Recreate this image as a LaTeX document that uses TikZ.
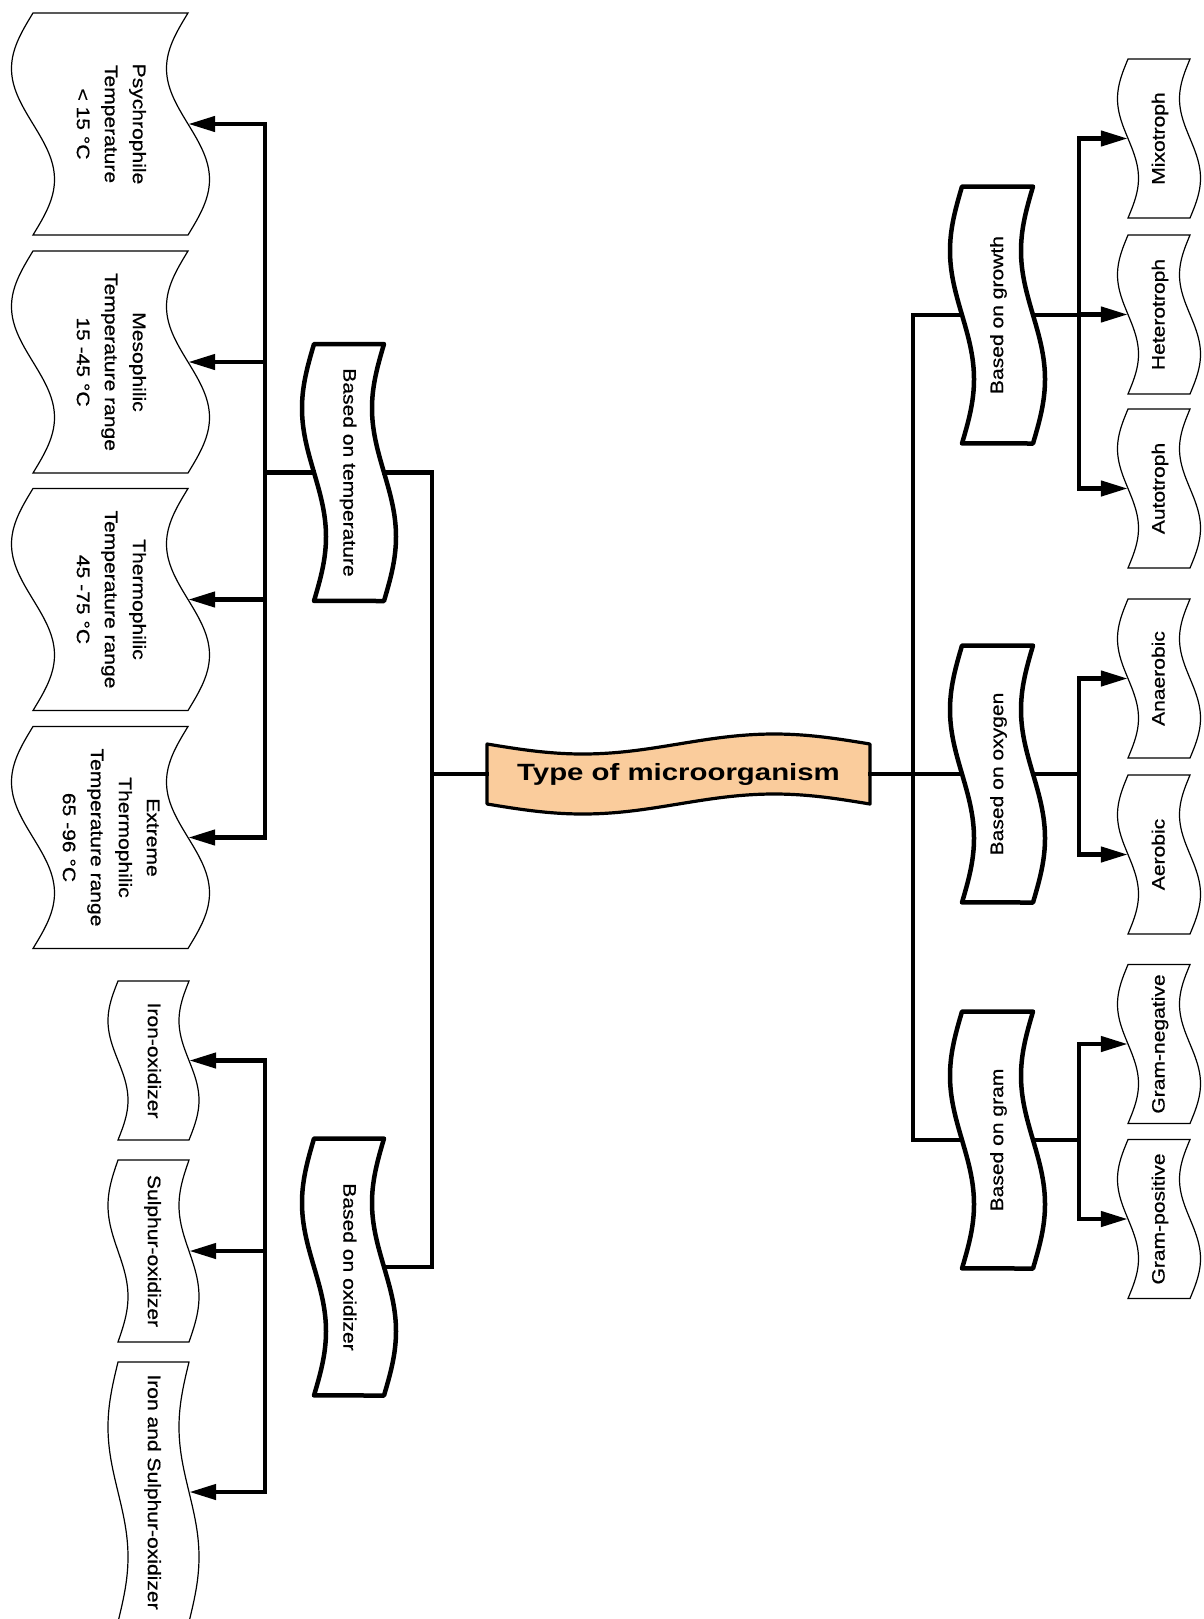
\documentclass[tikz,border=0pt]{standalone}
\usepackage{fontspec}
\usepackage{graphicx}
\setmainfont{Liberation Sans}
\newfontfamily\leaffam[FakeStretch=1.17,FakeBold=0.6]{Liberation Sans}
\newfontfamily\titlefam[FakeStretch=1.25]{Liberation Sans}
\usetikzlibrary{arrows.meta}
\definecolor{peach}{RGB}{250,204,156}

% vertical wavy box around a node: name, half-width, half-height, amplitude, style
\newcommand\vwave[5]{%
  \begin{scope}[shift={(#1.center)}]
    \path[#5] plot[domain=0:1,samples=49,smooth] ({-#2-#4*sin(360*\x)},{-#3+2*#3*\x})
      -- plot[domain=1:0,samples=49,smooth] ({#2-#4*sin(360*\x)},{-#3+2*#3*\x}) -- cycle;
  \end{scope}}
% horizontal wavy box around a coordinate
\newcommand\hwave[5]{%
  \begin{scope}[shift={(#1)}]
    \path[#5] plot[domain=0:1,samples=49,smooth] ({-#2+2*#2*\x},{-#3+#4*sin(360*\x)})
      -- plot[domain=1:0,samples=49,smooth] ({-#2+2*#2*\x},{#3+#4*sin(360*\x)}) -- cycle;
  \end{scope}}
% text nodes (rotated text): name, cx, cy, width, height, text
\newcommand\lnode[6]{%
  \node[inner sep=0pt, minimum width=#4pt, minimum height=#5pt] (#1) at (#2,#3)
    {\rotatebox{-90}{\leaffam\fontsize{18}{28}\selectfont\begin{tabular}{@{}c@{}}#6\end{tabular}}};}
\newcommand\rnode[6]{%
  \node[inner sep=0pt, minimum width=#4pt, minimum height=#5pt] (#1) at (#2,#3)
    {\rotatebox{90}{\leaffam\fontsize{18}{28}\selectfont\begin{tabular}{@{}c@{}}#6\end{tabular}}};}

\tikzset{
  leafline/.style={draw=black, line width=1.2pt},
  catline/.style={draw=black, line width=4.5pt, line join=round},
  mainline/.style={draw=black, fill=peach, line width=3.2pt, line join=round},
  conn/.style={draw=black, line width=4.5pt, line cap=rect},
  arr/.style={draw=black, line width=4.5pt, -{Triangle[length=27pt,width=15pt]}}
}

\begin{document}
\begin{tikzpicture}[x=1pt,y=-1pt]
\useasboundingbox (0,0) rectangle (1204,1619);
\fill[white] (0,0) rectangle (1204,1619);
\clip (0,0) rectangle (1204,1619);

% ---------- central node ----------
\coordinate (cc) at (678.5,774);
\hwave{cc}{191.5}{30}{10}{mainline}
\node[inner sep=0pt, minimum width=383pt, minimum height=60pt,
      font={\titlefam\bfseries\fontsize{23.5}{28}\selectfont}] (main) at (cc) {Type of microorganism};

% ---------- left: temperature ----------
\lnode{psy}{110.5}{124}{155}{222}{Psychrophile\\Temperature\\< 15 °C}
\lnode{meso}{110.5}{362}{155}{222}{Mesophilic\\Temperature range\\15 -45 °C}
\lnode{thermo}{110.5}{599.5}{155}{222}{Thermophilic\\Temperature range\\45 -75 °C}
\lnode{ext}{110.5}{837.5}{155}{222}{Extreme\\Thermophilic\\Temperature range\\65 -96 °C}
\foreach \n in {psy,meso,thermo,ext} {\vwave{\n}{77.5}{111}{21.5}{leafline}}

\lnode{temp}{349}{472.5}{70}{257}{Based on temperature}
\vwave{temp}{35}{128.5}{12}{catline}

% ---------- left: oxidizer ----------
\lnode{iron}{153.5}{1060.5}{71}{159}{Iron-oxidizer}
\lnode{sulph}{153.5}{1251}{71}{182}{Sulphur-oxidizer}
\lnode{both}{153.5}{1492}{71}{260}{Iron and Sulphur-oxidizer}
\vwave{iron}{35.5}{79.5}{10}{leafline}
\vwave{sulph}{35.5}{91}{10}{leafline}
\vwave{both}{35.5}{130}{10}{leafline}

\lnode{oxid}{349}{1267}{70}{257}{Based on oxidizer}
\vwave{oxid}{35}{128.5}{12}{catline}

% ---------- right: categories ----------
\rnode{growth}{997.5}{315}{71}{257}{Based on growth}
\rnode{oxygen}{997.5}{774}{71}{257}{Based on oxygen}
\rnode{gram}{997.5}{1140}{71}{257}{Based on gram}
\foreach \n in {growth,oxygen,gram} {\vwave{\n}{35.5}{128.5}{12}{catline}}

% ---------- right: leaves ----------
\rnode{mixo}{1159}{138.5}{62}{159}{Mixotroph}
\rnode{hetero}{1159}{314.5}{62}{159}{Heterotroph}
\rnode{auto}{1159}{488.5}{62}{159}{Autotroph}
\rnode{anaer}{1159}{678.5}{62}{159}{Anaerobic}
\rnode{aer}{1159}{854.5}{62}{159}{Aerobic}
\rnode{gneg}{1159}{1044}{62}{159}{Gram-negative}
\rnode{gpos}{1159}{1219}{62}{159}{Gram-positive}
\foreach \n in {mixo,hetero,auto,anaer,aer,gneg,gpos} {\vwave{\n}{31}{79.5}{10.5}{leafline}}

% ---------- bus coordinates ----------
\coordinate (LA) at (265,0);
\coordinate (LM) at (432,0);
\coordinate (RM) at (913,0);
\coordinate (RB) at (1079,0);

% ---------- left connectors ----------
\draw[conn] (LA |- psy.east) -- (LA |- ext.east);
\foreach \n in {psy,meso,thermo,ext} {\draw[arr] (LA |- \n.east) -- (\n.east);}
\draw[conn] (LA |- temp.west) -- (temp.west);
\draw[conn] (temp.east) -- (LM |- temp.east) -- (LM |- oxid.east) -- (oxid.east);
\draw[conn] (LM |- main.west) -- (main.west);

\draw[conn] (LA |- iron.east) -- (LA |- both.east);
\foreach \n in {iron,sulph,both} {\draw[arr] (LA |- \n.east) -- (\n.east);}

% ---------- right connectors ----------
\draw[conn] (main.east) -- (RM |- main.east);
\draw[conn] (RM |- growth.west) -- (RM |- gram.west);
\foreach \n in {growth,oxygen,gram} {\draw[conn] (RM |- \n.west) -- (\n.west);
  \draw[conn] (\n.east) -- (RB |- \n.east);}
\draw[conn] (RB |- mixo.west) -- (RB |- auto.west);
\draw[conn] (RB |- anaer.west) -- (RB |- aer.west);
\draw[conn] (RB |- gneg.west) -- (RB |- gpos.west);
\foreach \n in {mixo,hetero,auto,anaer,aer,gneg,gpos} {\draw[arr] (RB |- \n.west) -- (\n.west);}
\end{tikzpicture}
\end{document}
